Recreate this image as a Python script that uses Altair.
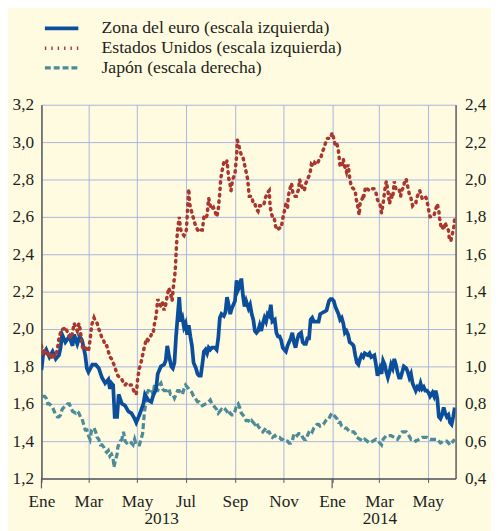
import altair as alt
import pandas as pd

SERIES = ["Zona del euro (escala izquierda)", "Estados Unidos (escala izquierda)", "Japón (escala derecha)"]
COLORS = ["#0b4f9c", "#a8372f", "#4d8b99"]
DASHES = [[1, 0], [1.4, 5.1], [6, 3]]
WIDTHS = [3.8, 3.3, 3.8]

EURO_DAYS = [0,2,6,10,14,18,22,24,26,30,35,39,41,45,48,51,55,57,59,64,68,72,76,80,84,86,88,90,92,95,97,101,105,109,113,117,119,123,128,130,134,138,140,144,146,150,154,156,158,160,163,165,167,169,173,175,177,179,181,183,185,187,189,191,194,196,198,200,202,204,206,208,210,212,214,216,218,220,222,224,226,229,231,233,235,237,239,241,243,245,247,249,251,253,255,257,260,262,264,266,268,270,272,274,276,278,280,282,284,286,288,290,293,295,297,299,301,303,305,307,309,311,313,315,317,319,321,323,326,328,330,332,334,336,338,340,342,344,348,350,354,358,361,363,365,367,369,371,373,375,377,379,381,383,385,387,390,392,394,396,398,400,402,404,406,410,412,414,418,420,422,425,427,429,431,433,435,437,439,441,443,445,447,449,451,453,455,458,460,462,464,466,468,470,472,474,476,478,480,482,484,486,488,491,493,495,497,499,501,503,505,507,509,511,513,515,517,519]
EURO_VALS = [1.78,1.86,1.89,1.85,1.88,1.84,1.86,1.90,1.97,1.93,1.96,1.91,1.97,1.92,1.96,1.94,1.86,1.79,1.77,1.81,1.81,1.79,1.74,1.71,1.73,1.68,1.71,1.70,1.53,1.53,1.65,1.60,1.59,1.56,1.55,1.52,1.50,1.54,1.60,1.65,1.62,1.61,1.64,1.68,1.76,1.80,1.81,1.83,1.91,1.86,1.80,1.79,1.82,1.96,2.17,2.04,2.06,2.01,2.03,1.97,2.02,1.96,1.91,1.82,1.79,1.76,1.75,1.75,1.81,1.88,1.89,1.87,1.90,1.89,1.90,1.90,1.90,1.89,1.95,2.06,2.08,2.07,2.09,2.17,2.13,2.08,2.11,2.13,2.15,2.26,2.21,2.23,2.27,2.18,2.12,2.15,2.11,2.13,2.08,2.05,1.99,1.98,1.99,2.02,1.99,2.03,2.06,2.04,2.08,2.07,2.13,2.04,2.05,1.98,1.96,1.96,1.94,1.90,1.89,1.88,1.91,1.93,1.95,1.98,1.93,1.90,1.94,1.97,1.98,1.93,1.92,1.92,1.95,1.95,2.05,2.06,2.04,2.04,2.04,2.08,2.09,2.10,2.15,2.16,2.16,2.15,2.12,2.10,2.08,2.05,2.06,2.03,1.98,1.99,1.97,1.93,1.92,1.91,1.86,1.82,1.81,1.84,1.86,1.85,1.87,1.86,1.87,1.85,1.86,1.81,1.75,1.79,1.76,1.83,1.81,1.77,1.74,1.77,1.81,1.79,1.84,1.81,1.77,1.74,1.74,1.77,1.80,1.79,1.77,1.74,1.76,1.71,1.69,1.67,1.69,1.68,1.71,1.68,1.69,1.67,1.67,1.66,1.64,1.66,1.64,1.67,1.63,1.53,1.52,1.54,1.58,1.55,1.53,1.54,1.50,1.49,1.53,1.58]

US_DAYS = [0,2,4,6,8,10,12,14,16,18,20,22,24,26,28,30,33,35,37,39,41,43,45,47,49,51,53,55,57,59,61,63,66,68,70,72,74,76,78,80,82,84,86,88,90,92,94,96,99,101,103,105,107,109,111,113,115,117,119,121,123,125,127,129,132,134,136,138,140,142,144,146,148,150,152,154,156,158,160,162,164,166,168,169,170,171,173,174,175,177,179,180,182,184,185,186,189,191,193,196,198,200,202,204,206,208,210,212,214,216,218,220,222,224,225,227,229,231,233,235,237,238,240,243,244,245,246,248,249,251,253,255,257,259,260,261,264,266,268,270,272,274,276,279,281,284,286,287,288,290,292,294,296,299,301,303,305,307,309,310,312,314,316,318,320,323,324,327,330,332,335,337,339,341,343,345,347,349,351,353,355,357,359,361,363,365,367,369,371,373,374,375,377,379,380,383,385,387,389,392,394,395,397,399,400,403,404,407,409,412,415,418,420,422,425,427,429,431,433,435,437,439,441,443,445,447,449,451,452,455,456,458,460,462,464,466,468,470,471,473,475,478,480,482,484,486,488,491,493,495,497,499,500,502,503,505,507,509,511,512,514,516,518,519]
US_VALS = [1.91,1.86,1.89,1.88,1.86,1.87,1.84,1.87,1.85,1.86,1.89,1.95,1.98,2.00,2.00,2.01,1.98,1.96,1.95,1.98,2.03,2.01,1.99,2.03,1.99,1.91,1.89,1.90,1.89,1.88,1.94,2.02,2.06,2.04,2.03,2.00,1.98,1.95,1.94,1.91,1.91,1.88,1.85,1.84,1.82,1.80,1.77,1.75,1.74,1.73,1.71,1.70,1.71,1.71,1.70,1.70,1.68,1.66,1.65,1.74,1.79,1.82,1.86,1.90,1.95,1.94,1.95,1.97,1.97,2.03,2.07,2.16,2.14,2.12,2.14,2.10,2.13,2.18,2.22,2.19,2.15,2.24,2.31,2.40,2.48,2.53,2.60,2.56,2.53,2.51,2.50,2.51,2.53,2.68,2.75,2.67,2.62,2.59,2.56,2.53,2.52,2.53,2.53,2.60,2.59,2.61,2.70,2.66,2.64,2.65,2.63,2.60,2.64,2.73,2.80,2.85,2.89,2.88,2.90,2.81,2.77,2.74,2.80,2.83,2.88,2.92,3.01,2.98,2.96,2.93,2.92,2.88,2.84,2.80,2.75,2.71,2.71,2.67,2.67,2.64,2.63,2.66,2.66,2.66,2.70,2.73,2.74,2.67,2.63,2.60,2.60,2.55,2.53,2.54,2.54,2.59,2.63,2.67,2.65,2.71,2.75,2.78,2.72,2.71,2.71,2.75,2.80,2.76,2.74,2.78,2.81,2.83,2.88,2.87,2.89,2.88,2.89,2.91,2.92,2.95,2.97,3.00,3.02,3.02,3.02,3.05,3.02,2.98,2.99,2.95,2.91,2.87,2.87,2.91,2.88,2.84,2.88,2.81,2.76,2.75,2.74,2.70,2.66,2.61,2.67,2.70,2.69,2.76,2.75,2.74,2.75,2.75,2.73,2.69,2.67,2.62,2.67,2.74,2.79,2.74,2.67,2.71,2.70,2.79,2.75,2.75,2.75,2.71,2.74,2.76,2.80,2.80,2.76,2.72,2.70,2.66,2.67,2.67,2.70,2.72,2.74,2.70,2.70,2.71,2.69,2.64,2.60,2.60,2.61,2.64,2.67,2.63,2.59,2.54,2.55,2.53,2.57,2.54,2.53,2.49,2.47,2.51,2.55,2.60]

JP_DAYS = [1,4,6,8,10,12,14,16,18,20,22,24,26,28,31,33,35,37,39,43,45,47,49,51,53,55,57,59,61,63,66,68,70,72,74,76,78,80,82,84,86,88,90,91,93,95,96,99,101,103,105,107,111,115,117,119,121,123,125,127,128,129,131,132,134,136,138,140,142,144,146,148,150,152,154,156,158,160,162,165,167,169,171,173,177,179,181,183,185,187,189,191,193,196,198,200,202,206,210,212,214,216,218,220,222,224,226,229,231,233,235,237,239,241,243,245,247,249,251,253,255,257,260,262,264,266,268,270,272,274,276,278,280,282,284,286,288,290,293,295,299,301,303,305,309,311,313,315,317,319,321,323,326,328,330,332,334,336,338,340,342,344,346,348,350,354,357,359,361,363,365,367,369,371,373,375,377,381,383,385,387,392,394,396,400,404,406,412,416,420,425,427,429,433,439,443,447,449,451,453,458,460,464,468,470,474,478,482,484,488,493,497,501,505,509,513,517,519]
JP_VALS = [0.84,0.84,0.83,0.80,0.80,0.79,0.78,0.76,0.74,0.73,0.73,0.74,0.77,0.78,0.79,0.80,0.80,0.78,0.76,0.75,0.76,0.75,0.73,0.72,0.69,0.66,0.66,0.63,0.61,0.66,0.67,0.65,0.62,0.61,0.58,0.58,0.57,0.55,0.54,0.55,0.52,0.53,0.51,0.46,0.50,0.53,0.57,0.60,0.61,0.65,0.60,0.59,0.60,0.58,0.61,0.58,0.58,0.58,0.61,0.64,0.69,0.74,0.81,0.85,0.87,0.87,0.88,0.85,0.90,0.87,0.87,0.90,0.91,0.88,0.87,0.87,0.87,0.88,0.85,0.85,0.83,0.85,0.87,0.87,0.85,0.88,0.90,0.89,0.88,0.87,0.86,0.84,0.83,0.81,0.81,0.80,0.79,0.80,0.81,0.82,0.80,0.79,0.78,0.77,0.75,0.76,0.77,0.76,0.77,0.76,0.74,0.75,0.74,0.74,0.76,0.79,0.80,0.78,0.75,0.74,0.73,0.71,0.71,0.70,0.71,0.70,0.69,0.70,0.68,0.67,0.66,0.65,0.66,0.67,0.65,0.65,0.63,0.62,0.63,0.62,0.62,0.61,0.61,0.60,0.60,0.59,0.59,0.60,0.64,0.64,0.63,0.64,0.64,0.62,0.61,0.61,0.63,0.65,0.66,0.65,0.67,0.68,0.69,0.69,0.68,0.69,0.71,0.72,0.72,0.74,0.75,0.74,0.73,0.72,0.70,0.70,0.68,0.67,0.67,0.66,0.65,0.65,0.64,0.62,0.61,0.60,0.61,0.59,0.60,0.61,0.59,0.58,0.61,0.63,0.63,0.62,0.61,0.62,0.64,0.65,0.65,0.64,0.61,0.61,0.60,0.61,0.62,0.62,0.62,0.61,0.61,0.61,0.59,0.60,0.60,0.58,0.60,0.61]

START = "2013-01-01"
END = "2014-06-05"
MONTH_TICKS = ["2013-01-01","2013-03-01","2013-05-01","2013-07-01","2013-09-01","2013-11-01",
               "2014-01-01","2014-03-01","2014-05-01"]
MONTH_NAMES = ["Ene","Feb","Mar","Abr","May","Jun","Jul","Ago","Sep","Oct","Nov","Dic"]
YEAR_LABELS = ["2013", "2014"]
YEAR_POS = ["2013-06-01", "2014-03-02"]
YEAR_STARTS = ["2013-01-01", "2014-01-01"]
LEFT_TICKS = [1.2, 1.4, 1.6, 1.8, 2.0, 2.2, 2.4, 2.6, 2.8, 3.0, 3.2]
RIGHT_TICKS = [0.4, 0.6, 0.8, 1.0, 1.2, 1.4, 1.6, 1.8, 2.0, 2.2, 2.4]

FONT = "Liberation Serif"
FS = 17.5
TXT = "#231f20"
AXIS = "#5a5a5a"
GRID = "#aab4dc"
BG = "#fffbe0"
W, H = 421, 380
DAY_MS = 86400000


def ms(s):
    return int(pd.Timestamp(s, tz="UTC").value // 10**6)


def frame(days, vals, name):
    base = ms(START)
    return pd.DataFrame({"t": [base + d * DAY_MS for d in days], "v": vals, "serie": name})


euro = frame(EURO_DAYS, EURO_VALS, SERIES[0])
us = frame(US_DAYS, US_VALS, SERIES[1])
jp = frame(JP_DAYS, JP_VALS, SERIES[2])

xscale = alt.Scale(type="utc", domain=[ms(START), ms(END)])
month_expr = "[" + ",".join("'%s'" % m for m in MONTH_NAMES) + "][utcmonth(datum.value)]"
num_expr = "replace(format(datum.value, '.1f'), '.', ',')"

legend = alt.Legend(title=None, orient="none", legendX=10, legendY=-88,
                    symbolType="M-2,0H2", symbolSize=289, labelFont=FONT,
                    labelFontSize=18, labelColor=TXT, labelOffset=30, labelLimit=400,
                    rowPadding=-1, padding=0)


def series_enc():
    return dict(
        color=alt.Color("serie:N", scale=alt.Scale(domain=SERIES, range=COLORS), legend=legend),
        strokeDash=alt.StrokeDash("serie:N", scale=alt.Scale(domain=SERIES, range=DASHES), legend=legend),
        strokeWidth=alt.StrokeWidth("serie:N", scale=alt.Scale(domain=SERIES, range=WIDTHS), legend=legend),
    )


x_axis = alt.Axis(values=[ms(t) for t in MONTH_TICKS], labelExpr=month_expr, title=None,
                  grid=True, gridColor=GRID, gridWidth=1, tickSize=4, tickColor=AXIS,
                  domainColor=AXIS, domainWidth=1.5, labelFont=FONT, labelFontSize=FS,
                  labelColor=TXT, labelPadding=10, labelFlush=False, labelOverlap=False)


def xenc():
    return alt.X("t:T", scale=xscale, axis=x_axis)


left_axis = alt.Axis(orient="left", values=LEFT_TICKS, labelExpr=num_expr, title=None,
                     grid=True, gridColor=GRID, gridWidth=1, ticks=False, domainColor=AXIS,
                     domainWidth=1.5, labelFont=FONT, labelFontSize=FS, labelColor=TXT,
                     labelPadding=8)
right_axis = alt.Axis(orient="right", values=RIGHT_TICKS, labelExpr=num_expr, title=None,
                      grid=False, ticks=False, domainColor=AXIS, domainWidth=1.5,
                      labelFont=FONT, labelFontSize=FS, labelColor=TXT, labelPadding=9)

jp_layer = alt.Chart(jp).mark_line(clip=True).encode(
    x=xenc(),
    y=alt.Y("v:Q", scale=alt.Scale(domain=[0.4, 2.4]), axis=right_axis),
    order="t:Q",
    **series_enc(),
)

lscale = alt.Scale(domain=[1.2, 3.2])
euro_layer = alt.Chart(euro).mark_line(clip=True).encode(
    x=xenc(),
    y=alt.Y("v:Q", scale=lscale, axis=left_axis),
    order="t:Q",
    **series_enc(),
)
us_layer = alt.Chart(us).mark_line(clip=True, strokeCap="round").encode(
    x=xenc(),
    y=alt.Y("v:Q", scale=lscale, axis=left_axis),
    order="t:Q",
    **series_enc(),
)

year_ticks = alt.Chart(pd.DataFrame({"t": [ms(s) for s in YEAR_STARTS]})).mark_rule(
    color=AXIS, strokeWidth=1.2).encode(
    x=xenc(), y=alt.value(H), y2=alt.value(H + 10))

year_text = alt.Chart(pd.DataFrame({"t": [ms(s) for s in YEAR_POS], "label": YEAR_LABELS})).mark_text(
    font=FONT, fontSize=FS, color=TXT, baseline="middle").encode(
    x=xenc(), y=alt.value(H + 41), text="label:N")

left_group = alt.layer(euro_layer, us_layer, year_ticks, year_text)

chart = alt.layer(jp_layer, left_group).resolve_scale(y="independent").properties(
    width=W, height=H,
    autosize=alt.AutoSizeParams(type="none"),
    padding={"left": 34, "top": 94, "right": 36, "bottom": 49},
    background=BG,
).configure_view(stroke=None)

chart.save("out.html", embed_options={"renderer": "svg", "actions": False})
